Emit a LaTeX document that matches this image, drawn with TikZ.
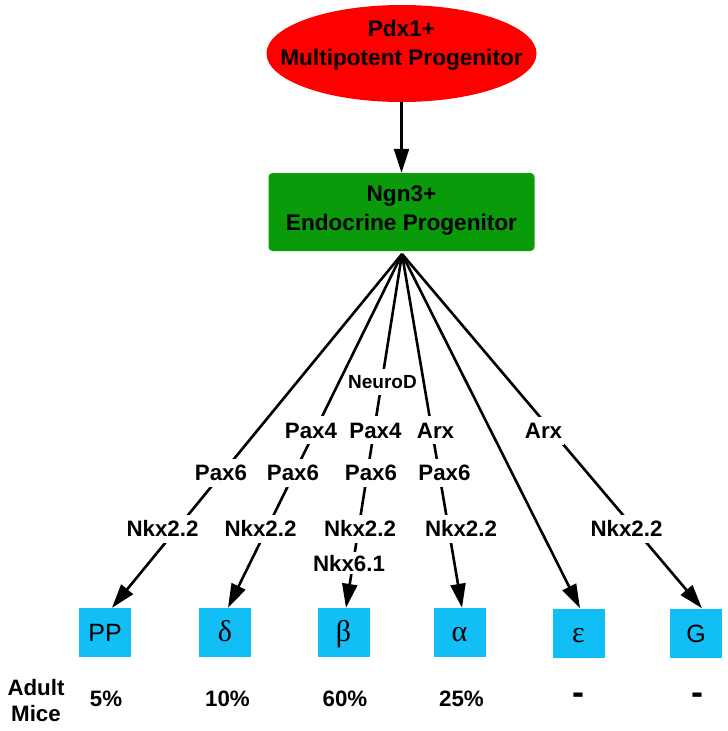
\documentclass[tikz,border=0pt]{standalone}
\usepackage{fontspec}
\setmainfont{Liberation Sans}
\newfontfamily\grk{Liberation Serif}
\usetikzlibrary{arrows.meta,shapes.geometric,calc}
\definecolor{pdxred}{RGB}{255,0,0}
\definecolor{ngngreen}{RGB}{10,155,10}
\definecolor{cellblue}{RGB}{18,190,246}
\begin{document}
\begin{tikzpicture}[x=1pt,y=-1pt,
  edgearr/.style={line width=2.6pt, -{Triangle[length=24pt,width=15pt]}},
  lbl/.style={fill=white, font=\fontsize{22.3}{26}\selectfont\bfseries, inner xsep=2pt, inner ysep=6pt, text height=16pt, text depth=0pt},
  smalllbl/.style={lbl, font=\fontsize{19}{22}\selectfont\bfseries, inner xsep=1pt, text height=14pt},
  title/.style={font=\fontsize{22.6}{29}\selectfont\bfseries, align=center, inner sep=0pt},
  cell/.style={fill=cellblue, minimum width=52pt, minimum height=49pt, inner sep=0pt, text height=18pt, text depth=0pt},
  lat/.style={font=\fontsize{25}{25}\selectfont},
  gk/.style={font=\grk\fontsize{30}{30}\selectfont},
  pct/.style={font=\fontsize{22.3}{26}\selectfont\bfseries, inner sep=0pt, text height=16pt, text depth=0pt},
  dashmark/.style={pct, font=\fontsize{36}{36}\selectfont\bfseries}
]
\useasboundingbox (0,0) rectangle (728,731);

% top ellipse
\node[ellipse, fill=pdxred, minimum width=270pt, minimum height=97pt, inner sep=0pt] (pdx) at (401.5,53.5) {};
\node[title] (pdxt) at (401.5,45) {Pdx1+\\Multipotent Progenitor};

% green box
\node[rectangle, rounded corners=4pt, fill=ngngreen, minimum width=266pt, minimum height=78pt, inner sep=0pt] (ngn) at (401.5,212) {};
\node[title] (ngnt) at (401.5,210.5) {Ngn3+\\Endocrine Progenitor};

\draw[edgearr] (pdx) -- (ngn);

% cell boxes
\node[cell, lat] (pp) at (105,632.5) {PP};
\node[cell, gk] (dl) at (225,632.5) {δ};
\node[cell, gk] (bt) at (343.5,632.5) {β};
\node[cell, gk] (al) at (459.5,632.5) {α};
\node[cell, gk] (ep) at (578.5,633) {ε};
\node[cell, lat] (gg) at (696,633) {G};

% connectors
\coordinate (src) at (402,254);
\coordinate (tpp) at ($(pp.north)+(7,0)$);
\coordinate (tdl) at ($(dl.north)+(3,0)$);
\coordinate (tbt) at ($(bt.north)+(2.5,0)$);
\coordinate (tal) at ($(al.north)+(2.5,0)$);
\coordinate (tep) at ($(ep.north)+(1.5,0)$);
\coordinate (tgg) at ($(gg.north)+(6,0)$);
\draw[edgearr] (src) -- (tpp);
\draw[edgearr] (src) -- (tdl);
\draw[edgearr] (src) -- (tbt);
\draw[edgearr] (src) -- (tal);
\draw[edgearr] (src) -- (tep);
\draw[edgearr] (src) -- (tgg);

% labels on connectors
\node[smalllbl] (neurod) at (382.5,381.5) {NeuroD};
\node[lbl] (pax4a) at (311,430) {Pax4};
\node[lbl] (pax4b) at (375.5,430) {Pax4};
\node[lbl] (arxa) at (435.5,430) {Arx};
\node[lbl] (arxb) at (543.5,430.5) {Arx};
\node[lbl] (pax6a) at (221,472.5) {Pax6};
\node[lbl] (pax6b) at (293,472.5) {Pax6};
\node[lbl] (pax6c) at (371,472.5) {Pax6};
\node[lbl] (pax6d) at (444.5,472.5) {Pax6};
\node[lbl] (nkxa) at (162.5,528.5) {Nkx2.2};
\node[lbl] (nkxb) at (260.5,528.5) {Nkx2.2};
\node[lbl] (nkxc) at (360,528.5) {Nkx2.2};
\node[lbl] (nkxd) at (461,528.5) {Nkx2.2};
\node[lbl] (nkxe) at (626.5,528.5) {Nkx2.2};
\node[lbl, inner ysep=3pt] (nkx61) at (349,563) {Nkx6.1};

% bottom row
\node[font=\fontsize{22.3}{26}\selectfont\bfseries, align=center, inner sep=0pt] (adult) at (36,701) {Adult\\Mice};
\node[pct] (ppp) at (106,698) {5\%};
\node[pct] (pdl) at (227.5,698) {10\%};
\node[pct] (pbt) at (345,698) {60\%};
\node[pct] (pal) at (461.5,698) {25\%};
\node[dashmark] (pep) at (578.5,696) {-};
\node[dashmark] (pgg) at (697,696) {-};
\end{tikzpicture}
\end{document}
